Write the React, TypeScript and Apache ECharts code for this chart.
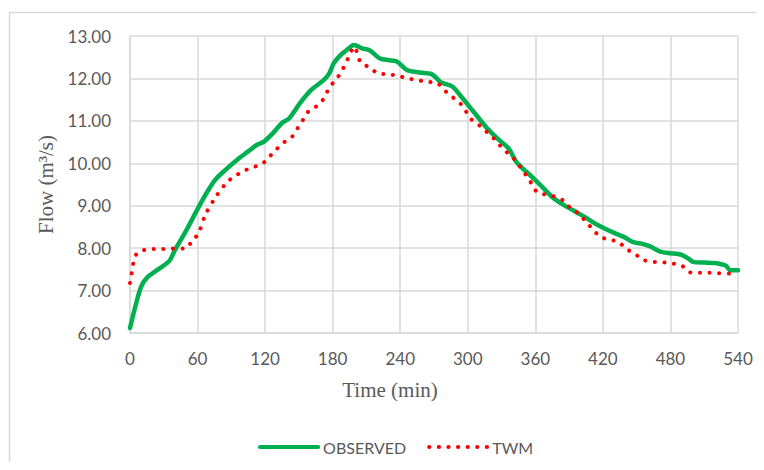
import React, { useEffect, useRef } from "react";
import * as echarts from "echarts";

const obsTime = [0, 5, 10, 15, 25, 35, 40, 50, 60, 68, 76, 85, 95, 105, 113, 119, 127, 135, 141, 151, 161, 172, 177, 181, 187, 192, 199, 206, 213, 222, 230, 237, 246, 257, 267, 271, 276, 286, 293, 305, 317, 326, 336, 342, 347, 355, 364, 376, 385, 393, 403, 415, 421, 430, 439, 447, 455, 462, 471, 480, 489, 495, 501, 510, 519, 529, 533, 540];
const obsFlow = [6.12, 6.65, 7.1, 7.3, 7.5, 7.7, 7.96, 8.42, 8.92, 9.3, 9.62, 9.85, 10.08, 10.28, 10.44, 10.51, 10.71, 10.95, 11.05, 11.42, 11.73, 11.96, 12.12, 12.36, 12.55, 12.66, 12.79, 12.71, 12.66, 12.47, 12.43, 12.4, 12.2, 12.14, 12.11, 12.04, 11.91, 11.81, 11.61, 11.22, 10.83, 10.59, 10.36, 10.08, 9.92, 9.73, 9.5, 9.18, 9.02, 8.9, 8.75, 8.55, 8.47, 8.36, 8.26, 8.14, 8.1, 8.04, 7.92, 7.88, 7.85, 7.77, 7.67, 7.66, 7.65, 7.59, 7.48, 7.48];

const twmTime = [0, 1.5, 3, 6, 13, 22, 31, 40, 49, 55, 61, 67, 76, 86, 93, 101, 110, 118, 124, 130, 137, 144, 149, 154, 159, 166, 172, 176, 181, 187, 191, 195, 199, 202, 205, 213, 220, 229, 238, 247, 255, 264, 273, 279, 286, 293, 298, 303, 310, 316, 323, 329, 335, 342, 347, 352, 357, 362, 370, 379, 386, 392, 399, 405, 411, 417, 425, 434, 440, 448, 455, 464, 472, 481, 490, 497, 506, 514, 523, 532];
const twmFlow = [7.18, 7.42, 7.65, 7.87, 7.96, 7.98, 7.98, 7.99, 7.99, 8.16, 8.36, 8.79, 9.2, 9.55, 9.69, 9.82, 9.91, 10.0, 10.16, 10.33, 10.5, 10.63, 10.83, 11.04, 11.24, 11.35, 11.52, 11.73, 11.92, 12.12, 12.33, 12.54, 12.75, 12.59, 12.37, 12.26, 12.12, 12.1, 12.06, 12.0, 11.96, 11.92, 11.89, 11.73, 11.57, 11.42, 11.24, 11.04, 10.9, 10.76, 10.59, 10.41, 10.25, 10.08, 9.9, 9.71, 9.51, 9.31, 9.26, 9.2, 9.1, 8.92, 8.81, 8.62, 8.45, 8.28, 8.2, 8.15, 7.99, 7.88, 7.73, 7.68, 7.67, 7.64, 7.59, 7.43, 7.42, 7.42, 7.41, 7.4];

const seriesNames = ["OBSERVED", "TWM"];
const xAxisTitle = "Time (min)";
const yAxisTitle = "Flow (m³/s)";

export default function App() {
  const ref = useRef<HTMLDivElement>(null);
  useEffect(() => {
    if (!ref.current) return;
    const chart = echarts.init(ref.current, undefined, { renderer: "svg" });
    const gray = "#595959";
    const tickFont = { fontFamily: "Lato", fontSize: 17, color: gray };
    chart.setOption({
      animation: false,
      backgroundColor: "#ffffff",
      graphic: [
        {
          type: "rect",
          shape: { x: 9.5, y: 12.5, width: 800, height: 500 },
          style: { fill: "none", stroke: "#d9d9d9", lineWidth: 1.5 },
          silent: true,
        },
      ],
      grid: { left: 130, right: 26, top: 36, bottom: 137 },
      legend: {
        left: 253,
        top: 434,
        itemWidth: 58,
        itemHeight: 14,
        itemGap: 21,
        itemStyle: { opacity: 0 },
        lineStyle: { width: 4.2 },
        textStyle: { fontFamily: "Lato", fontSize: 16, color: gray },
        data: seriesNames,
      },
      xAxis: {
        type: "value",
        min: 0,
        max: 540,
        interval: 60,
        name: xAxisTitle,
        nameLocation: "middle",
        nameGap: 46,
        nameTextStyle: { fontFamily: "Liberation Serif", fontSize: 21, color: gray, padding: [0, 88, 0, 0] },
        axisLine: { show: true, lineStyle: { color: "#d9d9d9", width: 1.5 } },
        axisTick: { show: false },
        axisLabel: { ...tickFont, margin: 17 },
        splitLine: { show: true, lineStyle: { color: "#d9d9d9", width: 1.5 } },
      },
      yAxis: {
        type: "value",
        min: 6,
        max: 13,
        interval: 1,
        name: yAxisTitle,
        nameLocation: "middle",
        nameGap: 70,
        nameTextStyle: { fontFamily: "Liberation Serif", fontSize: 21, color: gray },
        axisLine: { show: true, lineStyle: { color: "#d9d9d9", width: 1.5 } },
        axisTick: { show: false },
        axisLabel: { ...tickFont, margin: 19, formatter: (v: number) => v.toFixed(2) },
        splitLine: { show: true, lineStyle: { color: "#d9d9d9", width: 1.5 } },
      },
      series: [
        {
          name: seriesNames[0],
          type: "line",
          symbol: "none",
          smooth: 0.3,
          data: obsTime.map((t, i) => [t, obsFlow[i]]),
          lineStyle: { color: "#00b050", width: 4.5, cap: "round", join: "round" },
          itemStyle: { color: "#00b050" },
          z: 2,
        },
        {
          name: seriesNames[1],
          type: "line",
          symbol: "none",
          smooth: 0.3,
          data: twmTime.map((t, i) => [t, twmFlow[i]]),
          lineStyle: { color: "#ff0000", width: 4, type: [0.1, 9.5], cap: "round" },
          itemStyle: { color: "#ff0000" },
          z: 3,
        },
      ],
    });
    return () => chart.dispose();
  }, []);
  return <div ref={ref} style={{ width: 764, height: 470, margin: -8 }} />;
}
